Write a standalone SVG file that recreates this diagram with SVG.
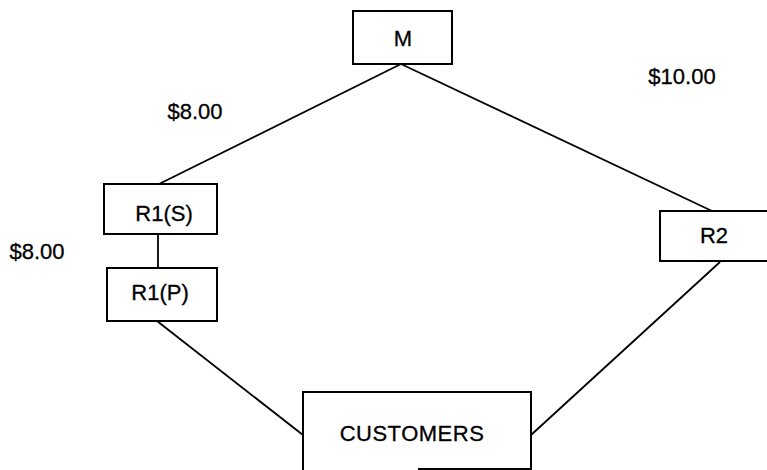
<svg xmlns="http://www.w3.org/2000/svg" width="767" height="470" viewBox="0 0 767 470">
  <style>
    .box { fill: none; stroke: #000; stroke-width: 2; }
    .link { fill: none; stroke: #000; stroke-width: 1.8; }
    .lbl { font-family: "Liberation Sans", Arial, sans-serif; fill: #000; stroke: #000; stroke-width: 0.3; text-anchor: middle; }
  </style>
  <rect width="767" height="470" fill="#fff"/>

  <!-- connectors -->
  <g id="connectors">
    <line class="link" x1="401" y1="64" x2="159" y2="184"/>
    <line class="link" x1="401" y1="64" x2="712" y2="211"/>
    <line class="link" x1="158" y1="234" x2="158" y2="268"/>
    <line class="link" x1="157" y1="321" x2="303" y2="435"/>
    <line class="link" x1="720" y1="262" x2="531" y2="435"/>
  </g>

  <!-- price labels -->
  <g id="prices" class="lbl" font-size="22">
    <text x="195" y="119">$8.00</text>
    <text x="37" y="259">$8.00</text>
    <text x="682" y="84">$10.00</text>
  </g>

  <g id="node-m">
    <rect class="box" x="353" y="11" width="99" height="53"/>
    <text class="lbl" x="403" y="46" font-size="22">M</text>
  </g>

  <g id="node-r1s">
    <rect class="box" x="104" y="184" width="113" height="50"/>
    <text class="lbl" x="164" y="221" font-size="22">R1(S)</text>
  </g>

  <g id="node-r1p">
    <rect class="box" x="107" y="268" width="110" height="53"/>
    <text class="lbl" x="160" y="300" font-size="22">R1(P)</text>
  </g>

  <g id="node-r2">
    <rect class="box" x="660" y="211" width="110" height="50"/>
    <text class="lbl" x="714" y="243" font-size="22">R2</text>
  </g>

  <g id="node-customers">
    <path class="box" d="M303 470 V392 H531 V470 M418 469 H531"/>
    <text class="lbl" x="412" y="441" font-size="22" letter-spacing="0.5">CUSTOMERS</text>
  </g>
</svg>
